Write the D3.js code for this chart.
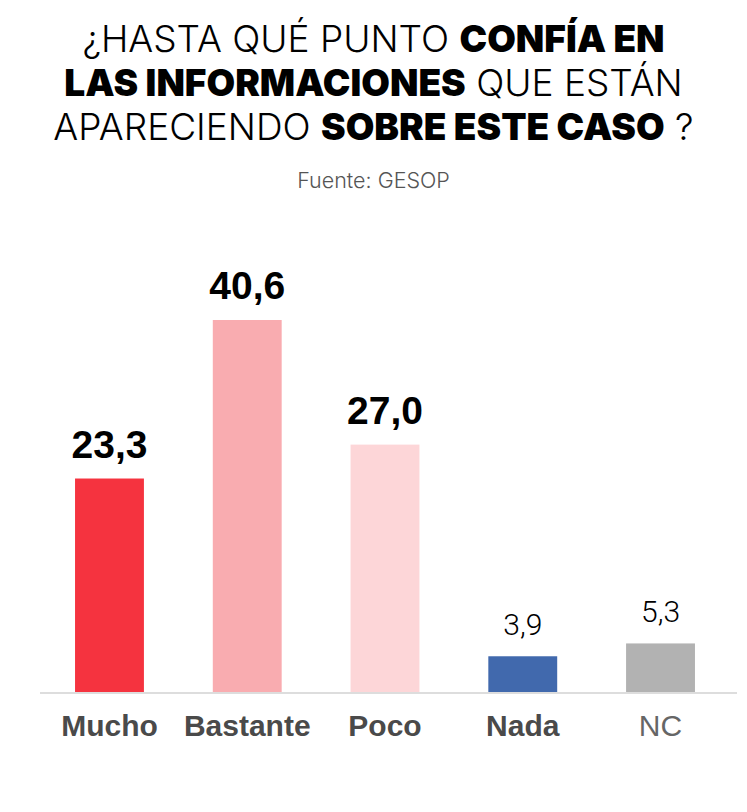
<!DOCTYPE html>
<html>
<head>
<meta charset="utf-8">
<script src="https://cdn.jsdelivr.net/npm/d3@7"></script>
<style>
  body { margin: 0; background: #fff; }
  .title { font-family: Inter, "Noto Sans", sans-serif; font-size: 37px; fill: #000; }
  .title .light { font-weight: 300; }
  .title .heavy { font-weight: 900; }
  .source { font-family: Inter, "Noto Sans", sans-serif; font-size: 21.5px; font-weight: 300; fill: #555; }
  .value { fill: #000; }
  .cat { font-family: "Liberation Sans", Arial, sans-serif; font-size: 30px; }
</style>
</head>
<body>
<div id="chart"></div>
<script>
// data
const categories = ["Mucho", "Bastante", "Poco", "Nada", "NC"];
const values = [23.3, 40.6, 27.0, 3.9, 5.3];
const valueLabels = ["23,3", "40,6", "27,0", "3,9", "5,3"];
const barColors = ["#f5333f", "#f9acb0", "#fdd6d8", "#4169ad", "#b2b2b2"];
const boldCats = ["Mucho", "Bastante", "Poco", "Nada"];
const boldValues = ["Mucho", "Bastante", "Poco"];

const titleLines = [
    [["¿HASTA QUÉ PUNTO ", "light"], ["CONFÍA EN", "heavy"]],
    [["LAS INFORMACIONES", "heavy"], [" QUE ESTÁN", "light"]],
    [["APARECIENDO ", "light"], ["SOBRE ESTE CASO", "heavy"], [" ?", "light"]]
];

const W = 747, H = 812;

const svg = d3.select("#chart").append("svg")
    .attr("width", W)
    .attr("height", H);

// title
const title = svg.append("text")
    .attr("class", "title")
    .attr("text-anchor", "middle");

titleLines.forEach((line, i) => {
    let row = title.append("tspan")
        .attr("x", W / 2)
        .attr("y", 52 + i * 44);
    line.forEach(part => {
        row.append("tspan")
            .attr("class", part[1])
            .text(part[0]);
    });
});

svg.append("text")
    .attr("class", "source")
    .attr("x", W / 2)
    .attr("y", 188)
    .attr("text-anchor", "middle")
    .text("Fuente: GESOP");

// scales
const x = d3.scaleBand()
    .domain(categories)
    .range([40.6, 729.4])
    .paddingInner(0.5)
    .paddingOuter(0.25);

const y = d3.scaleLinear()
    .domain([0, d3.max(values)])
    .range([692, 320]);

const data = categories.map((c, i) => ({
    cat: c, value: values[i], label: valueLabels[i], color: barColors[i]
}));

svg.selectAll("rect.bar")
    .data(data)
    .enter()
    .append("rect")
    .attr("class", "bar")
    .attr("x", d => x(d.cat))
    .attr("y", d => y(d.value))
    .attr("width", x.bandwidth())
    .attr("height", d => y(0) - y(d.value))
    .attr("fill", d => d.color);

// baseline
svg.append("line")
    .attr("x1", 40)
    .attr("x2", 737)
    .attr("y1", y(0) + 1)
    .attr("y2", y(0) + 1)
    .attr("stroke", "#dddddd")
    .attr("stroke-width", 2);

// value labels
svg.selectAll("text.value")
    .data(data)
    .enter()
    .append("text")
    .attr("class", "value")
    .attr("x", d => x(d.cat) + x.bandwidth() / 2)
    .attr("y", d => y(d.value) - 21)
    .attr("text-anchor", "middle")
    .attr("font-family", d => boldValues.includes(d.cat) ? "'Liberation Sans', Arial, sans-serif" : "Roboto, sans-serif")
    .attr("font-size", d => boldValues.includes(d.cat) ? 39 : 30)
    .attr("font-weight", d => boldValues.includes(d.cat) ? 700 : 300)
    .text(d => d.label);

// category labels
svg.selectAll("text.cat")
    .data(data)
    .enter()
    .append("text")
    .attr("class", "cat")
    .attr("x", d => x(d.cat) + x.bandwidth() / 2)
    .attr("y", 736)
    .attr("text-anchor", "middle")
    .attr("font-weight", d => boldCats.includes(d.cat) ? "bold" : "normal")
    .attr("fill", d => boldCats.includes(d.cat) ? "#4a4a4a" : "#666666")
    .text(d => d.cat);
</script>
</body>
</html>
